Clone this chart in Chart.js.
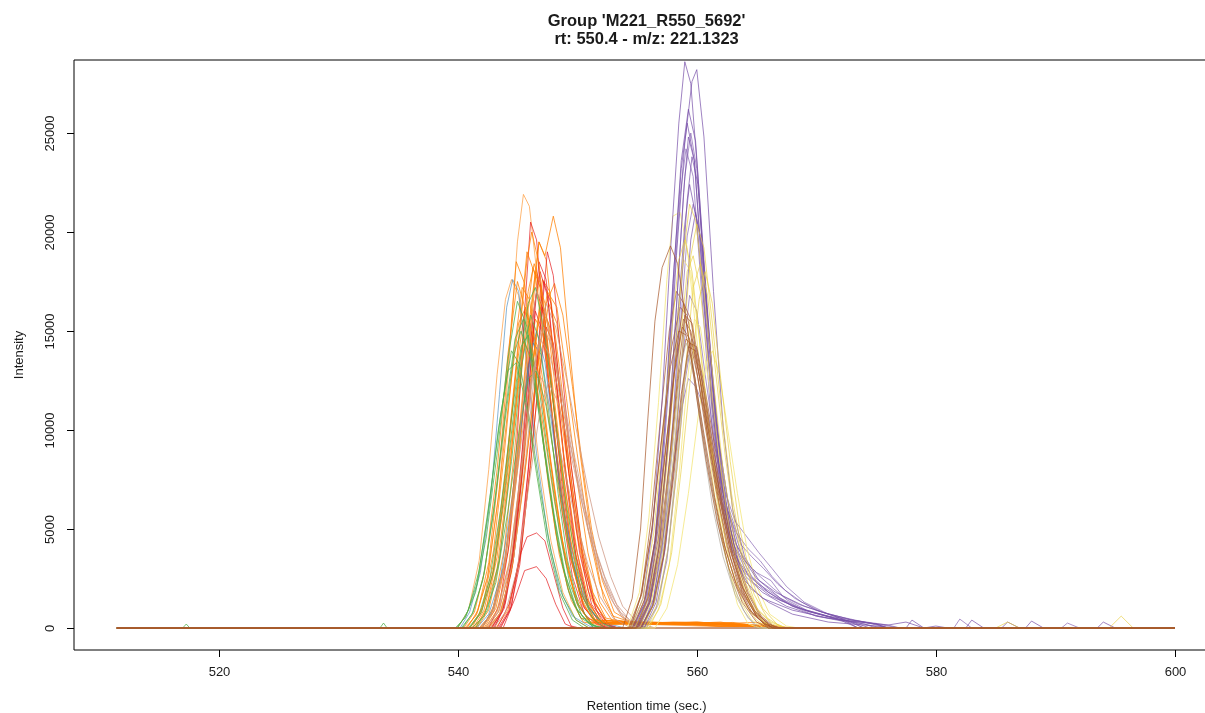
<!DOCTYPE html>
<html>
<head>
<meta charset="utf-8">
<script src="https://cdn.jsdelivr.net/npm/chart.js@4.4.1/dist/chart.umd.min.js"></script>
<style>
  html, body { margin: 0; padding: 0; background: #fff; }
  #chart { display: block; }
</style>
</head>
<body>
<canvas id="chart" width="1205" height="713"></canvas>
<script>
const titleLines = ["Group 'M221_R550_5692'", "rt: 550.4 - m/z: 221.1323"];
const xTitle = "Retention time (sec.)";
const yTitle = "Intensity";
const xTicks = [520, 540, 560, 580, 600];
const yTicks = [0, 5000, 10000, 15000, 20000, 25000];

// each trace is a list of [retention time, intensity]

const tanTraces = [
    [[511.5,0],[542.0,0],[543.0,800],[544.0,3400],[545.0,8600],[545.9,14000],[546.6,17000],[547.3,16000],[548.1,13600],[549.0,10800],[549.9,7800],[550.8,5200],[551.8,3000],[552.8,1500],[553.8,500],[555,100],[556,0],[597,0]],
    [[511.5,0],[542.5,0],[543.5,900],[544.5,3600],[545.5,8800],[546.4,13200],[547.2,15200],[548.0,14000],[548.9,11400],[549.8,8600],[550.7,6000],[551.6,3800],[552.6,2000],[553.6,800],[554.8,200],[556,0],[597,0]],
    [[511.5,0],[541.8,0],[542.8,700],[543.8,2800],[544.8,7000],[545.7,11200],[546.4,13200],[547.2,12400],[548.1,10200],[549.0,7800],[549.9,5400],[550.9,3200],[551.9,1600],[553.0,500],[554.2,100],[555,0],[597,0]],
    [[511.5,0],[543.0,0],[544.0,800],[545.0,3000],[546.0,7400],[546.9,11000],[547.6,12400],[548.4,11400],[549.3,9200],[550.2,6800],[551.1,4600],[552.1,2600],[553.1,1200],[554.2,300],[555.2,0],[597,0]],
    [[511.5,0],[542.3,0],[543.3,800],[544.3,3200],[545.3,8000],[546.2,12600],[546.9,14600],[547.7,13800],[548.6,11600],[549.5,9000],[550.4,6600],[551.3,4400],[552.3,2600],[553.3,1200],[554.5,300],[556,0],[597,0]],
    [[511.5,0],[542.7,0],[543.7,900],[544.7,3600],[545.7,8600],[546.6,13800],[547.4,16400],[548.2,15200],[549.1,12600],[550.0,9800],[550.9,7000],[551.8,4600],[552.8,2600],[553.8,1100],[555.0,300],[556.5,0],[597,0]],
];

const greenTraces = [
    [[511.5,0],[517.0,0],[517.3,200],[517.6,0],[539.8,0],[540.6,500],[541.5,1800],[542.4,4600],[543.3,8800],[544.2,13600],[545.0,16500],[545.8,15200],[546.6,11800],[547.5,7800],[548.4,4200],[549.3,1800],[550.3,500],[551.5,100],[552.5,0],[597,0]],
    [[511.5,0],[540.3,0],[541.2,700],[542.1,2400],[543.0,5800],[543.9,10200],[544.7,13800],[545.3,15000],[546.1,13600],[547.0,10000],[547.9,6200],[548.8,3100],[549.8,1100],[551,200],[552,0],[597,0]],
    [[511.5,0],[533.5,0],[533.8,250],[534.1,0],[540.0,0],[540.9,900],[541.8,2900],[542.7,6600],[543.6,10800],[544.5,14000],[545.2,13300],[546.0,10600],[546.9,7000],[547.8,3900],[548.8,1600],[549.9,400],[551,0],[597,0]],
    [[511.5,0],[541.0,0],[542.0,800],[543.0,2900],[544.0,7200],[545.0,12500],[545.9,16400],[546.5,17200],[547.3,14800],[548.2,10400],[549.1,6200],[550.0,3000],[551.0,1000],[552.2,200],[553,0],[597,0]],
    [[511.5,0],[541.2,0],[542.2,600],[543.2,2300],[544.2,5900],[545.1,9800],[545.9,12600],[546.6,13000],[547.4,11200],[548.3,7800],[549.2,4500],[550.2,1900],[551.3,500],[552.3,0],[597,0]],
    [[511.5,0],[541.5,0],[542.5,900],[543.5,3500],[544.5,8400],[545.4,13400],[546.1,15800],[546.8,14600],[547.6,11000],[548.4,6800],[549.2,3400],[550.1,1200],[551.2,200],[552,0],[597,0]],
    [[511.5,0],[540.4,0],[541.3,800],[542.2,2700],[543.1,6400],[544.0,11000],[544.8,14600],[545.5,15600],[546.3,13400],[547.2,9400],[548.1,5600],[549.0,2700],[550.0,900],[551.2,150],[552,0],[597,0]],
    [[511.5,0],[540.9,0],[541.8,700],[542.7,2500],[543.6,6000],[544.5,10600],[545.3,14200],[545.9,14800],[546.7,12600],[547.6,8600],[548.5,4900],[549.4,2200],[550.4,600],[551.4,0],[597,0]],
    [[511.5,0],[539.9,0],[540.7,600],[541.6,2200],[542.5,5600],[543.4,10000],[544.2,13000],[544.9,13400],[545.7,11400],[546.6,7800],[547.5,4400],[548.5,1800],[549.6,400],[550.6,0],[597,0]],
];

const blueTraces = [
    [[511.5,0],[540.2,0],[541.0,800],[541.9,2800],[542.8,6800],[543.5,11800],[544.1,16200],[544.6,17600],[545.1,17000],[545.8,13200],[546.6,8800],[547.5,4800],[548.5,2000],[549.6,600],[551,100],[552,0],[597,0]],
    [[511.5,0],[542.0,0],[543.0,1000],[544.0,3600],[545.0,8600],[545.9,13200],[546.6,15000],[547.3,13400],[548.1,9600],[549.0,5600],[550.0,2600],[551.0,900],[552.3,200],[553.3,0],[597,0]],
    [[511.5,0],[541.6,0],[542.6,700],[543.6,2600],[544.6,6800],[545.5,11200],[546.3,14400],[547.0,13800],[547.8,10600],[548.7,6600],[549.6,3400],[550.6,1400],[551.8,400],[553,150],[554,0],[597,0]],
];

const redTraces = [
    [[511.5,0],[542.6,0],[543.5,1200],[544.3,4200],[545.0,9800],[545.6,16000],[546.1,20500],[546.6,19600],[547.2,15400],[547.9,10600],[548.7,6000],[549.6,2600],[550.6,700],[551.8,100],[552.6,0],[597,0]],
    [[511.5,0],[543.0,0],[543.9,1000],[544.7,3600],[545.5,8400],[546.2,14000],[546.8,18500],[547.4,17600],[548.1,13400],[548.9,8600],[549.8,4400],[550.8,1500],[552.0,300],[553,0],[597,0]],
    [[511.5,0],[543.4,0],[544.3,900],[545.1,3400],[545.9,8000],[546.6,13200],[547.2,17500],[547.8,16400],[548.5,12400],[549.3,7800],[550.2,3800],[551.2,1200],[552.4,200],[553.2,0],[597,0]],
    [[511.5,0],[542.8,0],[543.7,800],[544.5,3000],[545.3,7400],[546.0,12400],[546.5,16000],[547.1,15000],[547.8,11200],[548.6,7000],[549.5,3400],[550.5,1100],[551.7,200],[552.5,0],[597,0]],
    [[511.5,0],[543.6,0],[544.5,1100],[545.3,4000],[546.1,9200],[546.9,15000],[547.5,19000],[548.0,17800],[548.7,13200],[549.5,8200],[550.4,4000],[551.4,1300],[552.6,200],[553.4,0],[597,0]],
    [[511.5,0],[543.3,0],[544.3,1200],[545.3,3800],[545.8,4600],[546.6,4800],[547.3,4400],[548.0,2800],[548.8,1000],[549.5,100],[550.2,0],[597,0]],
    [[511.5,0],[543.8,0],[544.8,1500],[545.6,2900],[546.6,3100],[547.4,2500],[548.2,1200],[549.0,200],[549.8,0],[597,0]],
    [[511.5,0],[543.1,0],[544.0,1300],[544.8,4600],[545.6,10200],[546.3,15800],[546.9,18000],[547.5,16800],[548.2,12600],[549.0,7800],[549.9,3600],[550.9,1100],[552.0,200],[552.8,0],[597,0]],
    [[511.5,0],[542.9,0],[543.8,1000],[544.6,3800],[545.4,9000],[546.1,14600],[546.6,17000],[547.2,16000],[547.9,12000],[548.7,7400],[549.6,3400],[550.6,1000],[551.8,200],[552.6,0],[597,0]],
    [[511.5,0],[543.5,0],[544.4,900],[545.2,3200],[546.0,7800],[546.8,12600],[547.4,15200],[548.0,14400],[548.8,10800],[549.7,6600],[550.6,3000],[551.6,900],[552.8,100],[553.5,0],[597,0]],
];

const orangeTraces = [
    [[511.5,0],[542.0,0],[543.0,800],[544.0,3500],[545.0,9000],[546.0,15500],[546.8,19500],[547.3,18800],[548.0,20800],[548.6,19200],[549.3,14500],[550.2,9000],[551.2,4500],[552.2,1500],[553.2,400],[556,200],[560,300],[565,100],[566,0],[597,0]],
    [[511.5,0],[541.0,0],[542.0,900],[543.0,3200],[544.0,7800],[545.0,14000],[545.8,19000],[546.5,17800],[547.4,13600],[548.3,8800],[549.2,4600],[550.2,1700],[551.2,500],[552.5,250],[560,200],[565,280],[567,0],[597,0]],
    [[511.5,0],[541.8,0],[542.8,700],[543.8,2900],[544.8,7400],[545.7,13200],[546.5,18000],[547.3,16400],[548.2,12000],[549.1,7600],[550.0,3800],[551.0,1300],[552.0,300],[555,180],[563,220],[565.5,0],[597,0]],
    [[511.5,0],[540.5,0],[541.4,800],[542.3,3000],[543.3,8000],[544.2,13800],[545.0,17500],[545.8,15800],[546.7,11600],[547.6,7200],[548.5,3700],[549.5,1400],[550.5,300],[552,150],[558,300],[564,200],[566,0],[597,0]],
    [[511.5,0],[542.3,0],[543.3,900],[544.3,3300],[545.3,7800],[546.2,12800],[547.0,16500],[547.8,15000],[548.7,11200],[549.6,7000],[550.5,3600],[551.5,1300],[552.5,300],[558,200],[562,300],[565,0],[597,0]],
    [[511.5,0],[541.4,0],[542.3,800],[543.3,3000],[544.2,7400],[545.1,12200],[545.9,15500],[546.7,14200],[547.6,10600],[548.5,6800],[549.4,3600],[550.4,1300],[551.5,300],[554,200],[561,250],[566,100],[567,0],[597,0]],
    [[511.5,0],[540.8,0],[541.7,900],[542.6,3300],[543.5,8200],[544.3,14000],[544.9,18500],[545.6,17400],[546.4,13400],[547.3,8800],[548.2,4800],[549.2,2000],[550.3,500],[553,250],[559,200],[564,0],[597,0]],
    [[511.5,0],[542.6,0],[543.6,800],[544.6,3200],[545.6,7800],[546.6,12800],[547.5,17000],[548.3,16200],[549.1,12800],[550.0,8800],[550.9,5000],[551.9,2200],[553.0,600],[555,200],[563,250],[566,0],[597,0]],
    [[511.5,0],[541.5,0],[542.4,1000],[543.3,3600],[544.2,8600],[545.1,14400],[545.8,18600],[546.2,20000],[546.8,18400],[547.6,13800],[548.5,8800],[549.4,4600],[550.4,1700],[551.5,400],[556,250],[563,200],[565,0],[597,0]],
    [[511.5,0],[541.0,0],[541.9,700],[542.9,2600],[543.9,6400],[544.8,11000],[545.5,14500],[546.3,13400],[547.2,10000],[548.1,6400],[549.0,3400],[550.0,1200],[551.1,300],[557,220],[566,0],[597,0]],
    [[511.5,0],[542.2,0],[543.2,1000],[544.2,3800],[545.2,9000],[546.1,15000],[546.8,19500],[547.4,18600],[548.2,14200],[549.0,9400],[549.9,5000],[550.9,1900],[552.0,400],[557,220],[562,180],[564,0],[597,0]],
    [[511.5,0],[541.2,0],[542.1,1100],[543.0,3900],[543.9,8800],[544.7,13900],[545.4,17200],[546.0,16600],[546.9,12800],[547.8,8400],[548.7,4600],[549.7,1900],[550.8,500],[552,250],[556,300],[561,200],[566,150],[568,0],[597,0]],
    [[511.5,0],[542.4,0],[543.4,800],[544.4,3000],[545.3,7400],[546.1,12600],[546.9,16200],[547.6,15400],[548.4,11800],[549.3,7800],[550.2,4200],[551.2,1600],[552.3,400],[555,250],[560,300],[564,150],[566,0],[597,0]],
    [[511.5,0],[541.6,0],[542.6,900],[543.5,3400],[544.4,8200],[545.2,13400],[545.9,17000],[546.4,18400],[547.0,17200],[547.8,13000],[548.7,8400],[549.6,4400],[550.6,1600],[551.7,400],[554,300],[558,200],[563,280],[566,0],[597,0]],
    [[511.5,0],[540.7,0],[541.6,700],[542.5,2600],[543.4,6600],[544.3,11600],[545.1,15400],[545.7,16200],[546.4,14400],[547.3,10400],[548.2,6400],[549.1,3200],[550.1,1100],[551.2,250],[557,200],[565,120],[567,0],[597,0]],
    [[511.5,0],[542.8,0],[543.8,1000],[544.7,3800],[545.6,8800],[546.4,14000],[547.1,17600],[547.7,17000],[548.5,13200],[549.4,8600],[550.3,4600],[551.3,1800],[552.4,500],[554,300],[562,250],[565,0],[597,0]],
    [[511.5,0],[541.9,0],[542.9,800],[543.9,3000],[544.9,7600],[545.8,12800],[546.5,15600],[547.2,14800],[548.1,11000],[549.0,7000],[549.9,3700],[550.9,1300],[552.0,300],[559,250],[566,0],[597,0]],
    [[511.5,0],[542.1,0],[543.0,1100],[543.9,4000],[544.8,9200],[545.6,14600],[546.3,18200],[546.9,17200],[547.7,12800],[548.6,8200],[549.5,4200],[550.5,1500],[551.6,300],[553,200],[560,260],[566,0],[597,0]],
    [[511.5,0],[543.2,0],[544.2,900],[545.2,3400],[546.1,8200],[546.9,13400],[547.6,16400],[548.3,15400],[549.1,11600],[550.0,7400],[550.9,3800],[551.9,1300],[553.0,300],[557,250],[566,0],[597,0]],
    [[511.5,0],[541.3,0],[542.2,900],[543.1,3200],[544.0,7800],[544.9,13000],[545.6,16000],[546.2,15200],[547.1,11400],[548.0,7400],[548.9,3900],[549.9,1400],[551.0,300],[555,200],[566,0],[597,0]],
    [[511.5,0],[542.5,0],[543.5,700],[544.5,2800],[545.5,7200],[546.5,12400],[547.4,16400],[548.1,17400],[548.8,15800],[549.6,12200],[550.4,8400],[551.2,5000],[552.1,2400],[553.1,800],[554.5,300],[560,250],[566,0],[597,0]],
];

const peachTraces = [
    [[511.5,0],[540.6,0],[541.5,600],[542.5,2500],[543.5,7000],[544.3,13500],[545.0,19500],[545.5,21900],[546.0,21300],[546.8,17000],[547.6,12500],[548.5,7500],[549.5,3500],[550.5,1200],[551.5,300],[553,200],[558,250],[564,150],[566,0],[597,0]],
    [[511.5,0],[540.0,0],[540.9,900],[541.8,3400],[542.6,8000],[543.3,12800],[544.0,16600],[544.5,17600],[545.1,16800],[545.9,13000],[546.8,8400],[547.8,4400],[548.8,1800],[549.9,400],[551,0],[597,0]],
];

const brownTraces = [
    [[511.5,0],[553.8,0],[554.6,1500],[555.3,5000],[555.9,10500],[556.5,15500],[557.1,18200],[557.8,19300],[558.4,18400],[559.1,15600],[559.9,12000],[560.8,8400],[561.7,5400],[562.7,3000],[563.8,1300],[565,300],[566,0],[600,0]],
    [[511.5,0],[554.6,0],[555.6,1400],[556.5,4400],[557.3,8600],[558.1,12800],[558.8,15200],[559.4,14600],[560.1,12600],[560.9,9800],[561.8,6800],[562.7,4200],[563.7,2200],[564.8,900],[566,200],[567,0],[600,0]],
    [[511.5,0],[555.0,0],[556.0,1300],[556.9,4200],[557.7,8400],[558.4,12600],[559.0,15800],[559.6,15400],[560.3,13000],[561.1,9800],[562.0,6600],[562.9,4000],[563.9,2000],[565.0,700],[566.3,100],[567,0],[600,0]],
    [[511.5,0],[554.3,0],[555.3,1600],[556.2,4800],[557.0,9200],[557.8,13200],[558.5,15000],[559.1,14800],[559.8,12800],[560.6,9800],[561.5,6600],[562.4,4000],[563.4,2000],[564.5,800],[565.7,200],[566.5,0],[600,0]],
    [[511.5,0],[555.3,0],[556.3,1100],[557.2,3600],[558.0,7600],[558.7,11800],[559.3,14200],[559.9,14000],[560.6,12000],[561.4,9000],[562.3,6000],[563.2,3600],[564.2,1800],[565.3,600],[566.3,0],[600,0]],
    [[511.5,0],[554.9,0],[555.9,1500],[556.8,4600],[557.6,9400],[558.3,14000],[558.9,16400],[559.5,15600],[560.2,12800],[561.0,9400],[561.9,6200],[562.8,3600],[563.8,1800],[565,600],[566,0],[600,0]],
    [[511.5,0],[554.5,0],[555.4,1800],[556.2,5600],[557.0,10800],[557.7,15000],[558.3,17000],[558.9,16400],[559.6,13600],[560.4,10200],[561.3,7000],[562.2,4400],[563.2,2400],[564.3,1000],[565.5,300],[566.5,0],[600,0]],
    [[511.5,0],[554.7,0],[555.7,1500],[556.6,4600],[557.4,9000],[558.2,13400],[558.9,15600],[559.5,15000],[560.2,12800],[561.0,9800],[561.9,6600],[562.8,3900],[563.8,1900],[564.9,700],[566.1,100],[567,0],[600,0]],
    [[511.5,0],[555.1,0],[556.1,1300],[557.0,4200],[557.8,8600],[558.5,12800],[559.1,14600],[559.7,14200],[560.4,12200],[561.2,9200],[562.1,6200],[563.0,3600],[564.0,1700],[565.1,500],[566.3,0],[600,0]],
    [[511.5,0],[554.4,0],[555.4,1700],[556.3,5200],[557.1,9800],[557.9,14200],[558.6,16200],[559.2,15800],[559.9,13400],[560.7,10200],[561.6,7000],[562.5,4200],[563.5,2100],[564.6,800],[565.8,100],[567,0],[600,0]],
    [[511.5,0],[555.4,0],[556.4,1200],[557.3,3800],[558.1,7800],[558.8,12000],[559.4,14400],[560.0,14200],[560.7,12000],[561.5,9200],[562.4,6200],[563.3,3700],[564.3,1800],[565.4,600],[566.6,0],[600,0]],
];

const greyTraces = [
    [[511.5,0],[555.8,0],[556.8,1200],[557.6,4000],[558.3,8400],[558.9,12400],[559.3,13800],[559.8,12600],[560.5,9400],[561.3,6200],[562.2,3600],[563.2,1700],[564.3,500],[565.3,0],[600,0]],
    [[511.5,0],[555.5,0],[556.5,1400],[557.3,4600],[558.0,9200],[558.6,13000],[559.1,14400],[559.6,13600],[560.3,10800],[561.1,7600],[562.0,4600],[562.9,2400],[563.9,900],[565,0],[600,0]],
];

const yellowTraces = [
    [[511.5,0],[554.8,0],[555.8,1200],[556.7,3800],[557.5,8200],[558.2,13400],[558.8,18400],[559.4,21400],[559.9,20600],[560.6,17000],[561.4,12400],[562.2,8000],[563.1,4600],[564.0,2400],[565.0,1000],[566.2,300],[567.5,0],[594.5,0],[595.5,600],[596.5,0],[600,0]],
    [[511.5,0],[555.5,0],[556.5,1400],[557.3,4200],[558.1,8800],[558.8,14000],[559.5,18800],[560.0,20400],[560.6,19200],[561.3,15400],[562.1,10800],[562.9,6800],[563.8,3800],[564.8,1700],[565.9,500],[567.2,0],[600,0]],
    [[511.5,0],[554.5,0],[555.5,1500],[556.4,4800],[557.2,9800],[557.9,15000],[558.5,18600],[559.0,19600],[559.6,18000],[560.3,14200],[561.1,9800],[561.9,6000],[562.8,3200],[563.8,1400],[565,400],[566,0],[600,0]],
    [[511.5,0],[556.0,0],[557.0,1200],[557.9,3800],[558.7,8000],[559.5,12800],[560.2,16600],[560.7,18000],[561.3,16400],[562.0,12600],[562.8,8400],[563.6,5000],[564.5,2600],[565.5,1000],[566.7,200],[567.5,0],[600,0]],
    [[511.5,0],[555.2,0],[556.2,1300],[557.1,4400],[557.9,9200],[558.6,14400],[559.2,18000],[559.7,18800],[560.3,17000],[561.0,13200],[561.8,9000],[562.6,5400],[563.5,2800],[564.5,1100],[565.6,300],[566.6,0],[600,0]],
    [[511.5,0],[555.7,0],[556.7,1200],[557.6,4000],[558.4,8400],[559.1,13400],[559.7,17200],[560.3,18400],[560.9,16800],[561.6,12800],[562.4,8600],[563.2,5200],[564.1,2600],[565.1,900],[566.3,200],[567.3,0],[585,0],[586,300],[587,0],[600,0]],
];

const paleYellowTraces = [
    [[511.5,0],[554.2,0],[555.2,1800],[556.0,5600],[556.8,11400],[557.5,17600],[558.0,20800],[558.6,21000],[559.2,19200],[559.9,15200],[560.7,10600],[561.5,6600],[562.4,3600],[563.4,1600],[564.6,400],[565.6,0],[600,0]],
    [[511.5,0],[556.5,0],[557.5,1000],[558.4,3200],[559.3,6800],[560.1,10600],[560.8,13400],[561.3,14000],[561.9,12800],[562.6,10000],[563.4,6800],[564.2,4000],[565.1,2000],[566.1,700],[567.5,100],[568.5,0],[600,0]],
    [[511.5,0],[555.8,0],[556.8,900],[557.7,3200],[558.5,7600],[559.2,12400],[559.8,15600],[560.3,15200],[561.0,12400],[561.8,8800],[562.6,5600],[563.5,3000],[564.5,1300],[565.6,300],[566.6,0],[600,0]],
    [[511.5,0],[554.9,0],[555.9,1600],[556.8,5000],[557.6,10200],[558.3,15400],[558.9,18600],[559.5,18000],[560.2,14600],[560.9,10400],[561.7,6400],[562.5,3400],[563.4,1200],[564.3,200],[565.3,0],[600,0]],
];

const purpleTraces = [
    [[511.5,0],[554.5,0],[555.5,1500],[556.3,5000],[557.1,11500],[557.8,19000],[558.5,25500],[559.0,28600],[559.5,27500],[560.2,22000],[561.0,14500],[561.8,8500],[562.7,4800],[563.6,3000],[564.5,2000],[566,1300],[568,700],[571,300],[575,100],[576.5,0],[600,0]],
    [[511.5,0],[555.0,0],[556.0,1600],[556.8,5200],[557.6,11800],[558.3,18800],[559.0,24500],[559.6,27600],[560.0,28200],[560.6,24800],[561.4,17000],[562.2,10200],[563.0,6000],[564.0,3600],[565.2,2400],[567,1500],[569,900],[572,400],[576,150],[577.5,300],[579,0],[580,100],[581,0],[582.5,0],[583,400],[584,0],[587.5,0],[588,350],[589,0],[593.5,0],[594,300],[595,0],[600,0]],
    [[511.5,0],[554.8,0],[555.8,1400],[556.6,4600],[557.4,10800],[558.1,18200],[558.7,23600],[559.3,26200],[559.9,24600],[560.6,18600],[561.4,11800],[562.2,7000],[563.1,4200],[564.2,2800],[565.5,2000],[567,1400],[569.5,800],[573,300],[574.5,0],[600,0]],
    [[511.5,0],[554.6,0],[555.6,1200],[556.5,4400],[557.3,10400],[558.0,17400],[558.7,23200],[559.2,25500],[559.8,23600],[560.5,17400],[561.3,10800],[562.1,6400],[563.0,3800],[564.0,2400],[565.5,1500],[568,900],[571,500],[575,200],[576,0],[577.5,0],[578,400],[579,0],[585.5,0],[586,300],[587,0],[600,0]],
    [[511.5,0],[555.2,0],[556.1,1300],[556.9,4300],[557.6,9600],[558.3,16200],[558.9,22000],[559.3,24800],[559.8,23600],[560.5,17800],[561.3,11400],[562.1,6800],[563.0,4000],[564.1,2600],[565.5,1800],[567.5,1100],[570,600],[574,200],[575.5,0],[600,0]],
    [[511.5,0],[555.4,0],[556.4,1500],[557.2,4800],[558.0,10400],[558.7,17000],[559.2,21600],[559.6,23800],[560.1,22400],[560.8,16600],[561.6,10600],[562.5,6200],[563.5,3800],[564.6,2600],[566,1800],[568,1100],[571,600],[575,200],[576,0],[600,0]],
    [[511.5,0],[554.9,0],[555.9,1200],[556.8,4000],[557.6,9200],[558.4,15600],[559.0,20400],[559.4,22400],[560.0,20600],[560.8,14800],[561.6,9400],[562.5,5600],[563.5,3400],[564.7,2300],[566.2,1600],[568.5,1000],[572,400],[573.5,0],[600,0]],
    [[511.5,0],[555.6,0],[556.6,1300],[557.4,4200],[558.2,9000],[558.9,14800],[559.5,19600],[559.9,21000],[560.4,19400],[561.1,14200],[561.9,9200],[562.8,5600],[563.8,3600],[565.0,2500],[566.6,1800],[569,1100],[572,500],[573.5,0],[600,0]],
    [[511.5,0],[555.0,0],[556.0,1200],[557.0,3800],[557.9,7600],[558.7,11000],[559.3,12600],[559.9,12200],[560.6,11200],[561.3,8800],[562.1,6400],[563.0,4600],[564.0,3400],[565.0,2800],[566.2,2400],[567.2,1600],[568.5,1200],[570.5,800],[573,400],[576,150],[577,0],[600,0]],
    [[511.5,0],[555.3,0],[556.3,1100],[557.2,3600],[558.0,8200],[558.8,13600],[559.4,16800],[560.0,16000],[560.7,12800],[561.5,9400],[562.3,7000],[563.2,5400],[564.2,4600],[565.2,3800],[566.3,3000],[567.5,2100],[569,1300],[571,700],[574,300],[576,0],[581.5,0],[582,450],[583,0],[600,0]],
    [[511.5,0],[555.1,0],[556.1,1400],[556.9,4600],[557.7,10400],[558.4,17200],[559.0,22800],[559.5,25000],[560.0,23200],[560.7,17200],[561.5,10800],[562.4,6400],[563.3,4200],[564.3,3200],[565.3,2600],[566.4,2000],[567.6,1400],[569.2,900],[571.5,500],[574,200],[575,0],[600,0]],
    [[511.5,0],[554.7,0],[555.7,1300],[556.5,4400],[557.3,10000],[558.0,16600],[558.6,21800],[559.1,24200],[559.7,22800],[560.4,17000],[561.2,10600],[562.0,6400],[562.9,4000],[564.0,2800],[565.2,2200],[566.5,1700],[568.0,1100],[570,600],[573,250],[574,0],[590.5,0],[591,250],[592,0],[600,0]],
    [[511.5,0],[555.3,0],[556.3,1200],[557.1,4000],[557.9,9000],[558.6,15000],[559.2,19800],[559.7,21400],[560.3,19800],[561.0,14600],[561.8,9600],[562.7,6000],[563.7,4200],[564.6,3600],[565.6,3000],[566.8,2200],[568.2,1500],[570,900],[572.5,400],[574,0],[600,0]],
    [[511.5,0],[555.6,0],[556.6,1000],[557.5,3400],[558.3,7800],[559.0,12400],[559.6,14600],[560.1,13800],[560.8,11400],[561.6,8400],[562.4,6200],[563.3,4800],[564.3,4000],[565.3,3400],[566.3,2600],[567.4,1900],[568.8,1300],[570.5,800],[573,400],[576,100],[577,0],[600,0]],
];

const FONT = '"Liberation Sans", Arial, Helvetica, sans-serif';
// right edge of the plot region lies outside the picture
const plotRightValue = 603.7;

function toDatasets(traces, color) {
    return traces.map((trace) => ({
        data: trace,
        borderColor: color,
        borderWidth: 1,
        pointRadius: 0,
        fill: false,
        tension: 0,
    }));
}

// box, ticks and titles in the style of base R graphics
const frame = {
    id: 'frame',
    afterDraw(chart) {
        const { ctx, chartArea: area, scales } = chart;
        const right = scales.x.getPixelForValue(plotRightValue);
        const midX = (area.left + right) / 2;
        ctx.save();
        ctx.strokeStyle = '#000';
        ctx.lineWidth = 1;
        ctx.beginPath();
        ctx.moveTo(right, area.top);
        ctx.lineTo(area.left, area.top);
        ctx.lineTo(area.left, area.bottom);
        ctx.lineTo(right, area.bottom);
        ctx.stroke();

        ctx.fillStyle = '#1a1a1a';
        ctx.font = '13px ' + FONT;
        ctx.textAlign = 'center';
        ctx.textBaseline = 'middle';
        xTicks.forEach((v) => {
            const px = Math.round(scales.x.getPixelForValue(v)) + 0.5;
            ctx.beginPath();
            ctx.moveTo(px, area.bottom);
            ctx.lineTo(px, area.bottom + 7);
            ctx.stroke();
            ctx.fillText(String(v), px, area.bottom + 22);
        });
        yTicks.forEach((v) => {
            const py = Math.round(scales.y.getPixelForValue(v)) + 0.5;
            ctx.beginPath();
            ctx.moveTo(area.left - 7, py);
            ctx.lineTo(area.left, py);
            ctx.stroke();
            ctx.save();
            ctx.translate(area.left - 24, py);
            ctx.rotate(-Math.PI / 2);
            ctx.fillText(String(v), 0, 0);
            ctx.restore();
        });

        ctx.fillText(xTitle, midX, 706);
        ctx.save();
        ctx.translate(19, (area.top + area.bottom) / 2);
        ctx.rotate(-Math.PI / 2);
        ctx.fillText(yTitle, 0, 0);
        ctx.restore();

        ctx.font = 'bold 16.5px ' + FONT;
        ctx.fillText(titleLines[0], midX, 21);
        ctx.fillText(titleLines[1], midX, 39);
        ctx.restore();
    },
};

const datasets = [].concat(
    toDatasets(brownTraces.slice(0, 6), 'rgba(166,86,40,0.7)'),
    toDatasets(greyTraces, 'rgba(165,155,140,0.6)'),
    toDatasets(yellowTraces, 'rgba(232,205,60,0.65)'),
    toDatasets(purpleTraces.slice(0, 8), 'rgba(118,78,168,0.7)'),
    toDatasets(brownTraces.slice(6), 'rgba(166,86,40,0.7)'),
    toDatasets(paleYellowTraces, 'rgba(245,232,130,0.85)'),
    toDatasets(purpleTraces.slice(8), 'rgba(118,78,168,0.6)'),
    toDatasets(tanTraces, 'rgba(205,150,130,0.75)'),
    toDatasets(greenTraces, 'rgba(77,175,74,0.75)'),
    toDatasets(orangeTraces.slice(0, 10), 'rgba(255,127,0,0.75)'),
    toDatasets(blueTraces, 'rgba(55,126,184,0.6)'),
    toDatasets(redTraces, 'rgba(228,26,28,0.7)'),
    toDatasets(orangeTraces.slice(10), 'rgba(255,127,0,0.75)'),
    toDatasets(peachTraces, 'rgba(253,160,70,0.75)'),
);

new Chart(document.getElementById('chart'), {
    type: 'line',
    data: { datasets: datasets },
    options: {
        responsive: false,
        animation: false,
        devicePixelRatio: 1,
        layout: {
            padding: { left: 74, top: 60, right: 0, bottom: 63 },
        },
        plugins: {
            legend: { display: false },
            tooltip: { enabled: false },
            title: { display: false },
        },
        scales: {
            x: { type: 'linear', min: 507.91, max: 602.51, display: false },
            y: { type: 'linear', min: -1111, max: 28687, display: false },
        },
    },
    plugins: [frame],
});
</script>
</body>
</html>
